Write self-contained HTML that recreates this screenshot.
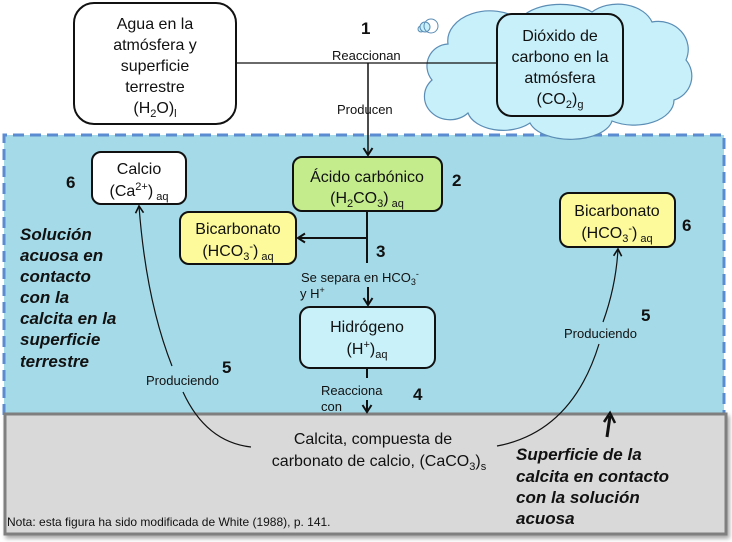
<!DOCTYPE html>
<html>
<head>
<meta charset="utf-8">
<style>
  html,body{margin:0;padding:0;background:#fff;}
  svg{display:block;}
  .cal{font-family:"Liberation Sans",sans-serif;font-size:16px;fill:#111;}
  .ar{font-family:"Liberation Sans",sans-serif;font-size:13px;fill:#111;}
  .num{font-family:"Liberation Sans",sans-serif;font-size:17px;font-weight:bold;fill:#111;}
  .it{font-family:"Liberation Sans",sans-serif;font-size:17px;font-weight:bold;font-style:italic;fill:#111;}
  .nota{font-family:"Liberation Sans",sans-serif;font-size:12px;fill:#111;}
</style>
</head>
<body>
<svg width="732" height="542" viewBox="0 0 732 542" xmlns="http://www.w3.org/2000/svg">
  <defs>
    <marker id="ah" markerWidth="12" markerHeight="12" refX="10" refY="6" orient="auto" markerUnits="userSpaceOnUse">
      <polyline points="3,1.5 10,6 3,10.5" fill="none" stroke="#111" stroke-width="2"/>
    </marker>
    <marker id="ahs" markerWidth="12" markerHeight="12" refX="10" refY="6" orient="auto" markerUnits="userSpaceOnUse">
      <polyline points="3,2 10,6 3,10" fill="none" stroke="#111" stroke-width="1.6"/>
    </marker>
    <filter id="sh" x="-5%" y="-5%" width="110%" height="115%">
      <feDropShadow dx="2" dy="3" stdDeviation="2" flood-color="#000" flood-opacity="0.35"/>
    </filter>
  </defs>

  <!-- water region -->
  <rect x="4" y="135" width="720" height="280" fill="#a5dbe9"/>
  <path d="M4,415 L4,135 L724,135 L724,415" fill="none" stroke="#5b8bd0" stroke-width="3" stroke-dasharray="11,6"/>

  <!-- calcite region -->
  <rect x="5" y="414" width="721" height="120" fill="#d9d9d9" stroke="#7f7f7f" stroke-width="3" filter="url(#sh)"/>

  <!-- cloud -->
  <path d="M432,80 A22,22 0 0 1 448,44 A42,30 0 0 1 520,20 A42,22 0 0 1 592,12 A36,26 0 0 1 652,22 A30,28 0 0 1 686,60 A25,25 0 0 1 674,100 A40,25 0 0 1 612,121 A42,22 0 0 1 530,123 A36,22 0 0 1 468,113 A22,20 0 0 1 432,80 Z" fill="#c8f0fa" stroke="#5b8db5" stroke-width="1.2"/>
  <circle cx="421" cy="29" r="3" fill="#c8f0fa" stroke="#5b8db5" stroke-width="1"/>
  <circle cx="425" cy="27" r="5" fill="#c8f0fa" stroke="#5b8db5" stroke-width="1"/>
  <circle cx="431" cy="26" r="7" fill="none" stroke="#5b8db5" stroke-width="1"/>

  <!-- connector 1 -->
  <line x1="237" y1="63" x2="497" y2="63" stroke="#111" stroke-width="1.2"/>
  <line x1="368" y1="63" x2="368" y2="155" stroke="#111" stroke-width="1.5" marker-end="url(#ah)"/>
  <text class="ar" x="332" y="60">Reaccionan</text>
  <text class="ar" x="337" y="114">Producen</text>
  <text class="num" x="361" y="34">1</text>

  <!-- Agua box -->
  <rect x="74" y="3" width="162" height="121" rx="20" fill="#fff" stroke="#111" stroke-width="2"/>
  <g class="cal" text-anchor="middle">
    <text x="155" y="29">Agua en la</text>
    <text x="155" y="50">atmósfera y</text>
    <text x="155" y="71">superficie</text>
    <text x="155" y="92">terrestre</text>
    <text x="155" y="113">(H<tspan font-size="11" dy="4">2</tspan><tspan dy="-4">O)</tspan><tspan font-size="11" dy="4">l</tspan></text>
  </g>

  <!-- CO2 box -->
  <rect x="497" y="14" width="126" height="102" rx="15" fill="#c8f0fa" stroke="#111" stroke-width="2"/>
  <g class="cal" text-anchor="middle">
    <text x="560" y="41">Dióxido de</text>
    <text x="560" y="62">carbono en la</text>
    <text x="560" y="83">atmósfera</text>
    <text x="560" y="104">(CO<tspan font-size="11" dy="4">2</tspan><tspan dy="-4">)</tspan><tspan font-size="11" dy="4">g</tspan></text>
  </g>

  <!-- Acido carbonico -->
  <rect x="293" y="157" width="149" height="54" rx="9" fill="#c5ec8c" stroke="#111" stroke-width="2"/>
  <g class="cal" text-anchor="middle">
    <text x="367" y="182">Ácido carbónico</text>
    <text x="367" y="203">(H<tspan font-size="11" dy="4">2</tspan><tspan dy="-4">CO</tspan><tspan font-size="11" dy="4">3</tspan><tspan dy="-4">)</tspan><tspan font-size="11" dy="4"> aq</tspan></text>
  </g>
  <text class="num" x="452" y="186">2</text>

  <!-- connector 3 -->
  <line x1="367" y1="211" x2="367" y2="263" stroke="#111" stroke-width="2"/>
  <line x1="367" y1="238" x2="298" y2="238" stroke="#111" stroke-width="2" marker-end="url(#ah)"/>
  <text class="num" x="376" y="257">3</text>
  <text class="ar" x="301" y="282">Se separa en HCO<tspan font-size="9" dy="3">3</tspan><tspan font-size="9" dy="-8">-</tspan></text>
  <text class="ar" x="300" y="298">y H<tspan font-size="9" dy="-5">+</tspan></text>
  <line x1="368" y1="287" x2="368" y2="305" stroke="#111" stroke-width="2" marker-end="url(#ah)"/>

  <!-- Bicarbonato left -->
  <rect x="180" y="212" width="116" height="52" rx="9" fill="#fdfa9b" stroke="#111" stroke-width="2"/>
  <g class="cal" text-anchor="middle">
    <text x="238" y="234">Bicarbonato</text>
    <text x="238" y="256">(HCO<tspan font-size="11" dy="4">3</tspan><tspan font-size="11" dy="-10">-</tspan><tspan dy="6">)</tspan><tspan font-size="11" dy="4"> aq</tspan></text>
  </g>

  <!-- Calcio -->
  <rect x="92" y="152" width="94" height="52" rx="9" fill="#fff" stroke="#111" stroke-width="2"/>
  <g class="cal" text-anchor="middle">
    <text x="139" y="174">Calcio</text>
    <text x="139" y="196">(Ca<tspan font-size="11" dy="-6">2+</tspan><tspan dy="6">)</tspan><tspan font-size="11" dy="4"> aq</tspan></text>
  </g>
  <text class="num" x="66" y="188">6</text>

  <!-- Hidrogeno -->
  <rect x="300" y="307" width="135" height="61" rx="10" fill="#c8f1f9" stroke="#111" stroke-width="2"/>
  <g class="cal" text-anchor="middle">
    <text x="367" y="332">Hidrógeno</text>
    <text x="367" y="354">(H<tspan font-size="11" dy="-6">+</tspan><tspan dy="6">)</tspan><tspan font-size="11" dy="4">aq</tspan></text>
  </g>

  <!-- connector 4 -->
  <line x1="367" y1="368" x2="367" y2="378" stroke="#111" stroke-width="2"/>
  <line x1="367" y1="400" x2="367" y2="412" stroke="#111" stroke-width="2" marker-end="url(#ah)"/>
  <text class="ar" x="321" y="395">Reacciona</text>
  <text class="ar" x="321" y="411">con</text>
  <text class="num" x="413" y="400">4</text>

  <!-- Bicarbonato right -->
  <rect x="560" y="193" width="115" height="54" rx="9" fill="#fdfa9b" stroke="#111" stroke-width="2"/>
  <g class="cal" text-anchor="middle">
    <text x="617" y="216">Bicarbonato</text>
    <text x="617" y="238">(HCO<tspan font-size="11" dy="4">3</tspan><tspan font-size="11" dy="-10">-</tspan><tspan dy="6">)</tspan><tspan font-size="11" dy="4"> aq</tspan></text>
  </g>
  <text class="num" x="682" y="231">6</text>

  <!-- left curve 5 -->
  <path d="M172,366 Q146,300 139,206" fill="none" stroke="#111" stroke-width="1.2" marker-end="url(#ahs)"/>
  <path d="M183,392 Q206,442 251,447" fill="none" stroke="#111" stroke-width="1.2"/>
  <text class="ar" x="146" y="385">Produciendo</text>
  <text class="num" x="222" y="373">5</text>

  <!-- right curve 5 -->
  <path d="M603,322 Q616,286 618,249" fill="none" stroke="#111" stroke-width="1.2" marker-end="url(#ahs)"/>
  <path d="M599,344 Q572,432 497,446" fill="none" stroke="#111" stroke-width="1.2"/>
  <text class="ar" x="564" y="338">Produciendo</text>
  <text class="num" x="641" y="321">5</text>

  <!-- Calcita text -->
  <g class="cal" text-anchor="middle">
    <text x="373" y="444">Calcita, compuesta de</text>
    <text x="379" y="466">carbonato de calcio, (CaCO<tspan font-size="11" dy="4">3</tspan><tspan dy="-4">)</tspan><tspan font-size="11" dy="4">s</tspan></text>
  </g>

  <!-- left italic label -->
  <g class="it">
    <text x="20" y="240">Solución</text>
    <text x="20" y="261">acuosa en</text>
    <text x="20" y="282">contacto</text>
    <text x="20" y="303">con la</text>
    <text x="20" y="324">calcita en la</text>
    <text x="20" y="345">superficie</text>
    <text x="20" y="367">terrestre</text>
  </g>

  <!-- right italic label -->
  <line x1="607" y1="437" x2="610" y2="416" stroke="#111" stroke-width="3"/>
  <polyline points="604,422 610,413 615,423" fill="none" stroke="#111" stroke-width="2.5"/>
  <g class="it">
    <text x="516" y="460">Superficie de la</text>
    <text x="516" y="482">calcita en contacto</text>
    <text x="516" y="503">con la solución</text>
    <text x="516" y="524">acuosa</text>
  </g>

  <text class="nota" x="7" y="526">Nota: esta figura ha sido modificada de White (1988), p. 141.</text>
</svg>
</body>
</html>
